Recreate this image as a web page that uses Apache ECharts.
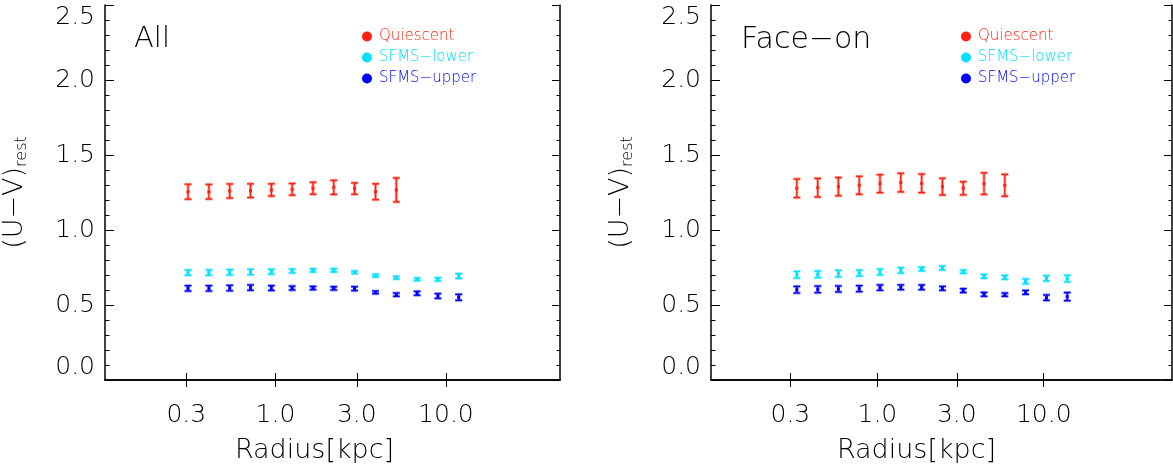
<!DOCTYPE html>
<html>
<head>
<meta charset="utf-8">
<script src="https://cdn.jsdelivr.net/npm/echarts@6/dist/echarts.min.js"></script>
<style>
  html, body { margin: 0; padding: 0; background: #fff; }
  #chart { width: 1173px; height: 469px; }
</style>
</head>
<body>
<div id="chart"></div>
<script>
// Radial (U−V) colour profiles: full sample (left) and face-on subsample (right)
const seriesNames = ['Quiescent', 'SFMS\u2212lower', 'SFMS\u2212upper'];
const seriesColors = ['#ff2010', '#00e0ff', '#0000ff'];
const panelTitles = ['All', 'Face\u2212on'];
const xTickValues = [0.3, 1, 3, 10];

// Left panel: all galaxies
const radiusAll = [0.307, 0.407, 0.539, 0.714, 0.946, 1.253, 1.660, 2.198, 2.911, 3.864, 5.117, 6.776, 8.974, 11.89];
const quiescentAll = [1.255, 1.255, 1.260, 1.262, 1.267, 1.271, 1.278, 1.284, 1.276, 1.255, 1.267];
const quiescentAllErr = [0.050, 0.049, 0.047, 0.046, 0.041, 0.039, 0.040, 0.047, 0.038, 0.053, 0.080];
const lowerAll = [0.716, 0.716, 0.718, 0.720, 0.722, 0.727, 0.731, 0.731, 0.718, 0.696, 0.682, 0.671, 0.671, 0.693];
const lowerAllErr = [0.018, 0.018, 0.018, 0.018, 0.016, 0.013, 0.011, 0.011, 0.009, 0.009, 0.009, 0.009, 0.011, 0.016];
const upperAll = [0.611, 0.611, 0.613, 0.616, 0.613, 0.613, 0.613, 0.611, 0.609, 0.584, 0.569, 0.578, 0.560, 0.551];
const upperAllErr = [0.018, 0.018, 0.018, 0.018, 0.016, 0.013, 0.011, 0.011, 0.013, 0.009, 0.011, 0.013, 0.016, 0.020];

// Right panel: face-on galaxies
const radiusFace = [0.328, 0.438, 0.583, 0.778, 1.037, 1.383, 1.845, 2.460, 3.281, 4.375, 5.834, 7.780, 10.38, 13.84];
const quiescentFace = [1.278, 1.282, 1.289, 1.298, 1.309, 1.316, 1.311, 1.289, 1.278, 1.309, 1.298];
const quiescentFaceErr = [0.062, 0.062, 0.061, 0.060, 0.060, 0.062, 0.062, 0.056, 0.044, 0.072, 0.073];
const lowerFace = [0.702, 0.704, 0.709, 0.713, 0.720, 0.731, 0.740, 0.747, 0.722, 0.691, 0.684, 0.658, 0.678, 0.676];
const lowerFaceErr = [0.022, 0.022, 0.022, 0.020, 0.020, 0.018, 0.013, 0.013, 0.011, 0.013, 0.013, 0.016, 0.018, 0.022];
const upperFace = [0.602, 0.604, 0.607, 0.609, 0.616, 0.618, 0.618, 0.611, 0.596, 0.571, 0.569, 0.584, 0.549, 0.556];
const upperFaceErr = [0.022, 0.022, 0.020, 0.020, 0.018, 0.016, 0.016, 0.013, 0.013, 0.013, 0.011, 0.013, 0.018, 0.027];

const FONT = 'DejaVu Sans';
const INK = '#000000';

function rows(xs, ys, es) {
  return ys.map((y, i) => [xs[i], y, es[i]]);
}

// error bar with caps, a soft wide stroke under a thin solid one, and a small square marker
function renderErrorBar(params, api) {
  const x = api.value(0), y = api.value(1), e = api.value(2);
  const c = api.coord([x, y]);
  const t = api.coord([x, y + e]);
  const b = api.coord([x, y - e]);
  const color = api.visual('color');
  const hw = 3.5;
  const bar = (w, opacity) => [
    { type: 'line', shape: { x1: c[0], y1: t[1], x2: c[0], y2: b[1] }, style: { stroke: color, lineWidth: w, opacity } },
    { type: 'line', shape: { x1: c[0] - hw, y1: t[1], x2: c[0] + hw, y2: t[1] }, style: { stroke: color, lineWidth: w, opacity } },
    { type: 'line', shape: { x1: c[0] - hw, y1: b[1], x2: c[0] + hw, y2: b[1] }, style: { stroke: color, lineWidth: w, opacity } }
  ];
  return {
    type: 'group',
    children: [
      ...bar(3, 0.4),
      ...bar(1.3, 1),
      { type: 'rect', shape: { x: c[0] - 1.5, y: c[1] - 1.5, width: 3, height: 3 }, style: { fill: color } }
    ]
  };
}

const grids = [
  { left: 105, right: 613, top: 5, bottom: 89 },
  { left: 711, right: 1, top: 5, bottom: 89 }
];
const xMax = [46.7, 59.0];

const xAxes = [];
const yAxes = [];
grids.forEach((g, gi) => {
  const baseX = {
    type: 'log', logBase: 10, min: 0.1, max: xMax[gi], gridIndex: gi,
    axisLine: { show: true, lineStyle: { color: INK, width: 1.5 } },
    splitLine: { show: false },
    minorTick: { show: false }
  };
  xAxes.push(Object.assign({}, baseX, {
    position: 'bottom',
    axisTick: { show: true, inside: true, length: 7, lineStyle: { color: INK, width: 1 }, customValues: xTickValues },
    axisLabel: {
      show: true, customValues: xTickValues, margin: 23,
      fontFamily: FONT, fontWeight: 200, fontSize: 25, color: INK,
      formatter: v => Number(v).toFixed(1)
    },
    name: 'Radius[kpc]', nameLocation: 'middle', nameGap: 57,
    nameTextStyle: { fontFamily: FONT, fontWeight: 200, fontSize: 27, color: INK, padding: [0, gi === 0 ? 36 : 50, 0, 0] }
  }));
  xAxes.push(Object.assign({}, baseX, {
    position: 'top',
    axisTick: { show: true, inside: true, length: 7, lineStyle: { color: INK, width: 1 }, customValues: xTickValues },
    axisLabel: { show: false }
  }));
  const baseY = {
    type: 'value', min: 0, max: 2.5, interval: 0.5, gridIndex: gi,
    axisLine: { show: true, lineStyle: { color: INK, width: 1.5 } },
    splitLine: { show: false },
    minorTick: { show: true, splitNumber: 5, length: 4.5, lineStyle: { color: INK, width: 1 } },
    axisTick: { show: true, inside: true, length: 9, lineStyle: { color: INK, width: 1 } }
  };
  yAxes.push(Object.assign({}, baseY, {
    position: 'left',
    axisLabel: {
      show: true, margin: 10, fontFamily: FONT, fontWeight: 200, fontSize: 25, color: INK,
      formatter: v => Number(v).toFixed(1),
      verticalAlignMinLabel: 'bottom', verticalAlignMaxLabel: 'top'
    },
    name: '{m|(U\u2212V)}{s|rest}', nameLocation: 'middle', nameGap: 75,
    nameTextStyle: {
      rich: {
        m: { fontFamily: FONT, fontWeight: 200, fontSize: 27, color: INK, lineHeight: 30 },
        s: { fontFamily: FONT, fontWeight: 200, fontSize: 16, color: INK, lineHeight: 30, verticalAlign: 'bottom', padding: [12, 0, 0, 0] }
      }
    }
  }));
  yAxes.push(Object.assign({}, baseY, {
    position: 'right',
    axisTick: { show: true, inside: true, length: 8, lineStyle: { color: INK, width: 1 } },
    minorTick: { show: true, splitNumber: 5, length: 3.5, lineStyle: { color: INK, width: 1 } },
    axisLabel: { show: false }
  }));
});

const panelData = [
  [rows(radiusAll, quiescentAll, quiescentAllErr), rows(radiusAll, lowerAll, lowerAllErr), rows(radiusAll, upperAll, upperAllErr)],
  [rows(radiusFace, quiescentFace, quiescentFaceErr), rows(radiusFace, lowerFace, lowerFaceErr), rows(radiusFace, upperFace, upperFaceErr)]
];

const series = [];
panelData.forEach((sets, gi) => {
  sets.forEach((data, si) => {
    series.push({
      type: 'custom', name: seriesNames[si],
      xAxisIndex: gi * 2, yAxisIndex: gi * 2,
      itemStyle: { color: seriesColors[si] },
      encode: { x: 0, y: 1 },
      renderItem: renderErrorBar,
      data
    });
  });
});

const legendLeft = [362, 961];
const legends = legendLeft.map(l => ({
  left: l, top: 29, orient: 'vertical', icon: 'circle',
  itemWidth: 10, itemHeight: 10, itemGap: 6, padding: 0,
  selectedMode: false,
  textStyle: { fontFamily: FONT, fontWeight: 200, fontSize: 15, lineHeight: 14, padding: [0, 0, 0, 2] },
  data: seriesNames.map((n, i) => ({ name: n, textStyle: { color: seriesColors[i] } }))
}));

const titles = panelTitles.map((t, i) => ({
  text: t, left: i === 0 ? 134 : 741, top: 25, padding: 0,
  textStyle: { fontFamily: FONT, fontWeight: 200, fontSize: i === 0 ? 29 : 30, color: INK }
}));

const chart = echarts.init(document.getElementById('chart'), null, { renderer: 'canvas', width: 1173, height: 469 });
chart.setOption({
  animation: false,
  backgroundColor: '#ffffff',
  title: titles,
  legend: legends,
  grid: grids,
  xAxis: xAxes,
  yAxis: yAxes,
  series
});
</script>
</body>
</html>
